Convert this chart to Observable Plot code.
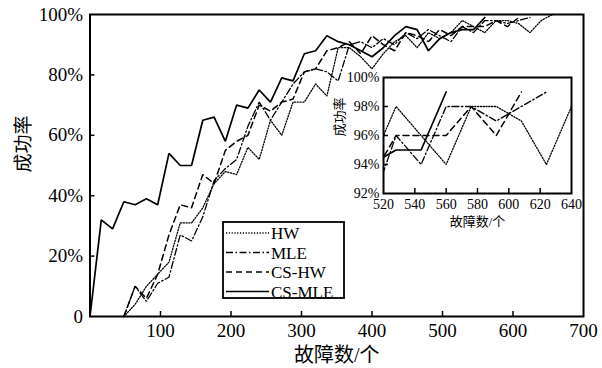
<!DOCTYPE html>
<html><head><meta charset="utf-8">
<script src="https://cdn.jsdelivr.net/npm/d3@7"></script>
<script src="https://cdn.jsdelivr.net/npm/@observablehq/plot@0.6"></script>
<style>
body{margin:0;background:#fff;}
#wrap{position:relative;width:602px;height:368px;font-family:"Liberation Serif","DejaVu Serif","Noto Sans CJK SC",serif;}
#wrap > svg{position:absolute;}
#wrap text{font-family:"Liberation Serif","DejaVu Serif","Noto Sans CJK SC",serif;}
</style></head><body><div id="wrap"></div>
<script>
// ---- data ----
const faults = [0,16,32,48,64,80,96,112,128,144,160,176,192,208,224,240,256,272,288,304,320,336,352,368,384,400,416,432,448,464,480,496,512,528,544,560,576,592,608,624,640,656];
const hw    = [null,null,null,0,4,10,14,18,31,31,36,44,48,47,56,52,65,60,71,71,77,73,89,89,86,82,87,91,93,89,94,92,94,98,96,94,98,98,97,94,98,100];
const mle   = [null,null,null,0,10,5,11,13,27,25,33,45,49,52,63,71,65,71,77,81,82,81,78,90,91,89,92,90,94,92,95,93,91,96,94,98,98,97,98,99,null,null];
const csHw  = [null,null,null,0,10,6,14,27,37,36,47,44,55,58,60,70,68,71,72,81,82,88,89,91,87,93,90,88,94,93,91,95,93,96,96,96,98,96,99,null,null,null];
const csMle = [0,32,29,38,37,39,37,54,50,50,65,66,58,70,69,75,71,79,78,87,88,93,91,90,88,86,89,93,96,95,88,92,94,95,95,99,null,null,null,null,null,null];
const seriesNames = ["HW","MLE","CS-HW","CS-MLE"];
const mainXTicks = [100,200,300,400,500,600,700];
const mainYTicks = [0,20,40,60,80,100];
const insetXTicks = [520,540,560,580,600,620,640];
const insetYTicks = [92,94,96,98,100];
const xLabel = "故障数/个";
const yLabel = "成功率";

// ---- styles ----
const dashes = ["1.2,1.6", "7,2.5,1.5,2.5", "6,4", null];
const widths = [1.3, 1.3, 1.5, 1.7];
const FONT = '"Liberation Serif", "DejaVu Serif", "Noto Sans CJK SC", serif';
const values = [hw, mle, csHw, csMle];
const rows = values.flatMap((vals, i) => faults.map((f, j) => ({x: f, y: vals[j], s: seriesNames[i]})));
const lineMarks = (extra = {}) => seriesNames.map((n, i) =>
  Plot.line(rows.filter(r => r.s === n), {x: "x", y: "y", stroke: "black", strokeWidth: widths[i],
    strokeDasharray: dashes[i], strokeLinejoin: "miter", ...extra}));
const pct = d => d === 0 ? "0" : d + "%";

const wrap = document.getElementById("wrap");

// ---- main chart ----
const M = {w: 602, h: 368, l: 89.5, r: 19, t: 14, b: 52};
const pw = M.w - M.l - M.r, ph = M.h - M.t - M.b;
const main = Plot.plot({
  width: M.w, height: M.h, marginLeft: M.l, marginRight: M.r, marginTop: M.t, marginBottom: M.b,
  style: {fontFamily: FONT, fontSize: "19px", color: "black", background: "white"},
  x: {domain: [0, 700]}, y: {domain: [0, 100]},
  marks: [
    ...lineMarks(),
    Plot.tickX(mainXTicks.slice(0, -1), {x: d => d, insetTop: ph - 5, stroke: "black", strokeWidth: 1.5}),
    Plot.tickY(mainYTicks.slice(1, -1), {y: d => d, insetRight: pw - 5, stroke: "black", strokeWidth: 1.5}),
    Plot.axisX(mainXTicks, {tickSize: 0, tickPadding: 7, tickFormat: d => d, fontSize: 19, label: null}),
    Plot.axisY(mainYTicks, {tickSize: 0, tickPadding: 7, tickFormat: pct, fontSize: 19, label: null}),
    Plot.frame({stroke: "black", strokeWidth: 2}),
    Plot.text([xLabel], {text: d => d, frameAnchor: "bottom", dy: 39, fontSize: 20, lineAnchor: "middle"}),
    Plot.text([yLabel], {text: d => d, frameAnchor: "left", dx: -66, dy: 7, rotate: -90, fontSize: 19, lineAnchor: "middle"})
  ]
});
main.style.left = "0px"; main.style.top = "0px";
wrap.appendChild(main);

// ---- inset ----
const I = {x: 320, y: 70, w: 265, h: 162, l: 63, r: 14, t: 7, b: 39};
const ipw = I.w - I.l - I.r, iph = I.h - I.t - I.b;
const inset = Plot.plot({
  width: I.w, height: I.h, marginLeft: I.l, marginRight: I.r, marginTop: I.t, marginBottom: I.b,
  style: {fontFamily: FONT, fontSize: "14px", color: "black", background: "transparent"},
  x: {domain: [520, 640]}, y: {domain: [92, 100]},
  marks: [
    Plot.frame({fill: "white"}),
    ...lineMarks({clip: true}),
    Plot.tickX(insetXTicks.slice(1, -1), {x: d => d, insetTop: iph - 5, stroke: "black", strokeWidth: 1.5}),
    Plot.tickY(insetYTicks.slice(1, -1), {y: d => d, insetRight: ipw - 5, stroke: "black", strokeWidth: 1.5}),
    Plot.axisX(insetXTicks, {tickSize: 0, tickPadding: 6, tickFormat: d => d, fontSize: 14, label: null}),
    Plot.axisY(insetYTicks, {tickSize: 0, tickPadding: 4, tickFormat: pct, fontSize: 14, label: null}),
    Plot.frame({stroke: "black", strokeWidth: 2}),
    Plot.text([xLabel], {text: d => d, frameAnchor: "bottom", dy: 28, fontSize: 13, lineAnchor: "middle"}),
    Plot.text([yLabel], {text: d => d, frameAnchor: "left", dx: -44, dy: 1, rotate: -90, fontSize: 13, lineAnchor: "middle"})
  ]
});
inset.style.left = I.x + "px"; inset.style.top = I.y + "px";
wrap.appendChild(inset);

// ---- legend ----
const ns = "http://www.w3.org/2000/svg";
const leg = document.createElementNS(ns, "svg");
leg.setAttribute("width", 126); leg.setAttribute("height", 79);
leg.style.left = "222px"; leg.style.top = "221px";
const r = document.createElementNS(ns, "rect");
[["x",1],["y",1],["width",121],["height",76],["fill","white"],["stroke","black"],["stroke-width",1.8]].forEach(([k,v]) => r.setAttribute(k, v));
leg.appendChild(r);
seriesNames.forEach((n, i) => {
  const cy = 12 + i * 19.5;
  const ln = document.createElementNS(ns, "line");
  [["x1",4],["x2",47],["y1",cy],["y2",cy],["stroke","black"],["stroke-width",widths[i]]].forEach(([k,v]) => ln.setAttribute(k, v));
  if (dashes[i]) ln.setAttribute("stroke-dasharray", dashes[i]);
  leg.appendChild(ln);
  const t = document.createElementNS(ns, "text");
  t.setAttribute("x", 49); t.setAttribute("y", cy + 6);
  t.setAttribute("font-size", 17); t.setAttribute("fill", "black");
  t.style.fontFamily = FONT;
  t.textContent = n;
  leg.appendChild(t);
});
wrap.appendChild(leg);
</script>
</body></html>
